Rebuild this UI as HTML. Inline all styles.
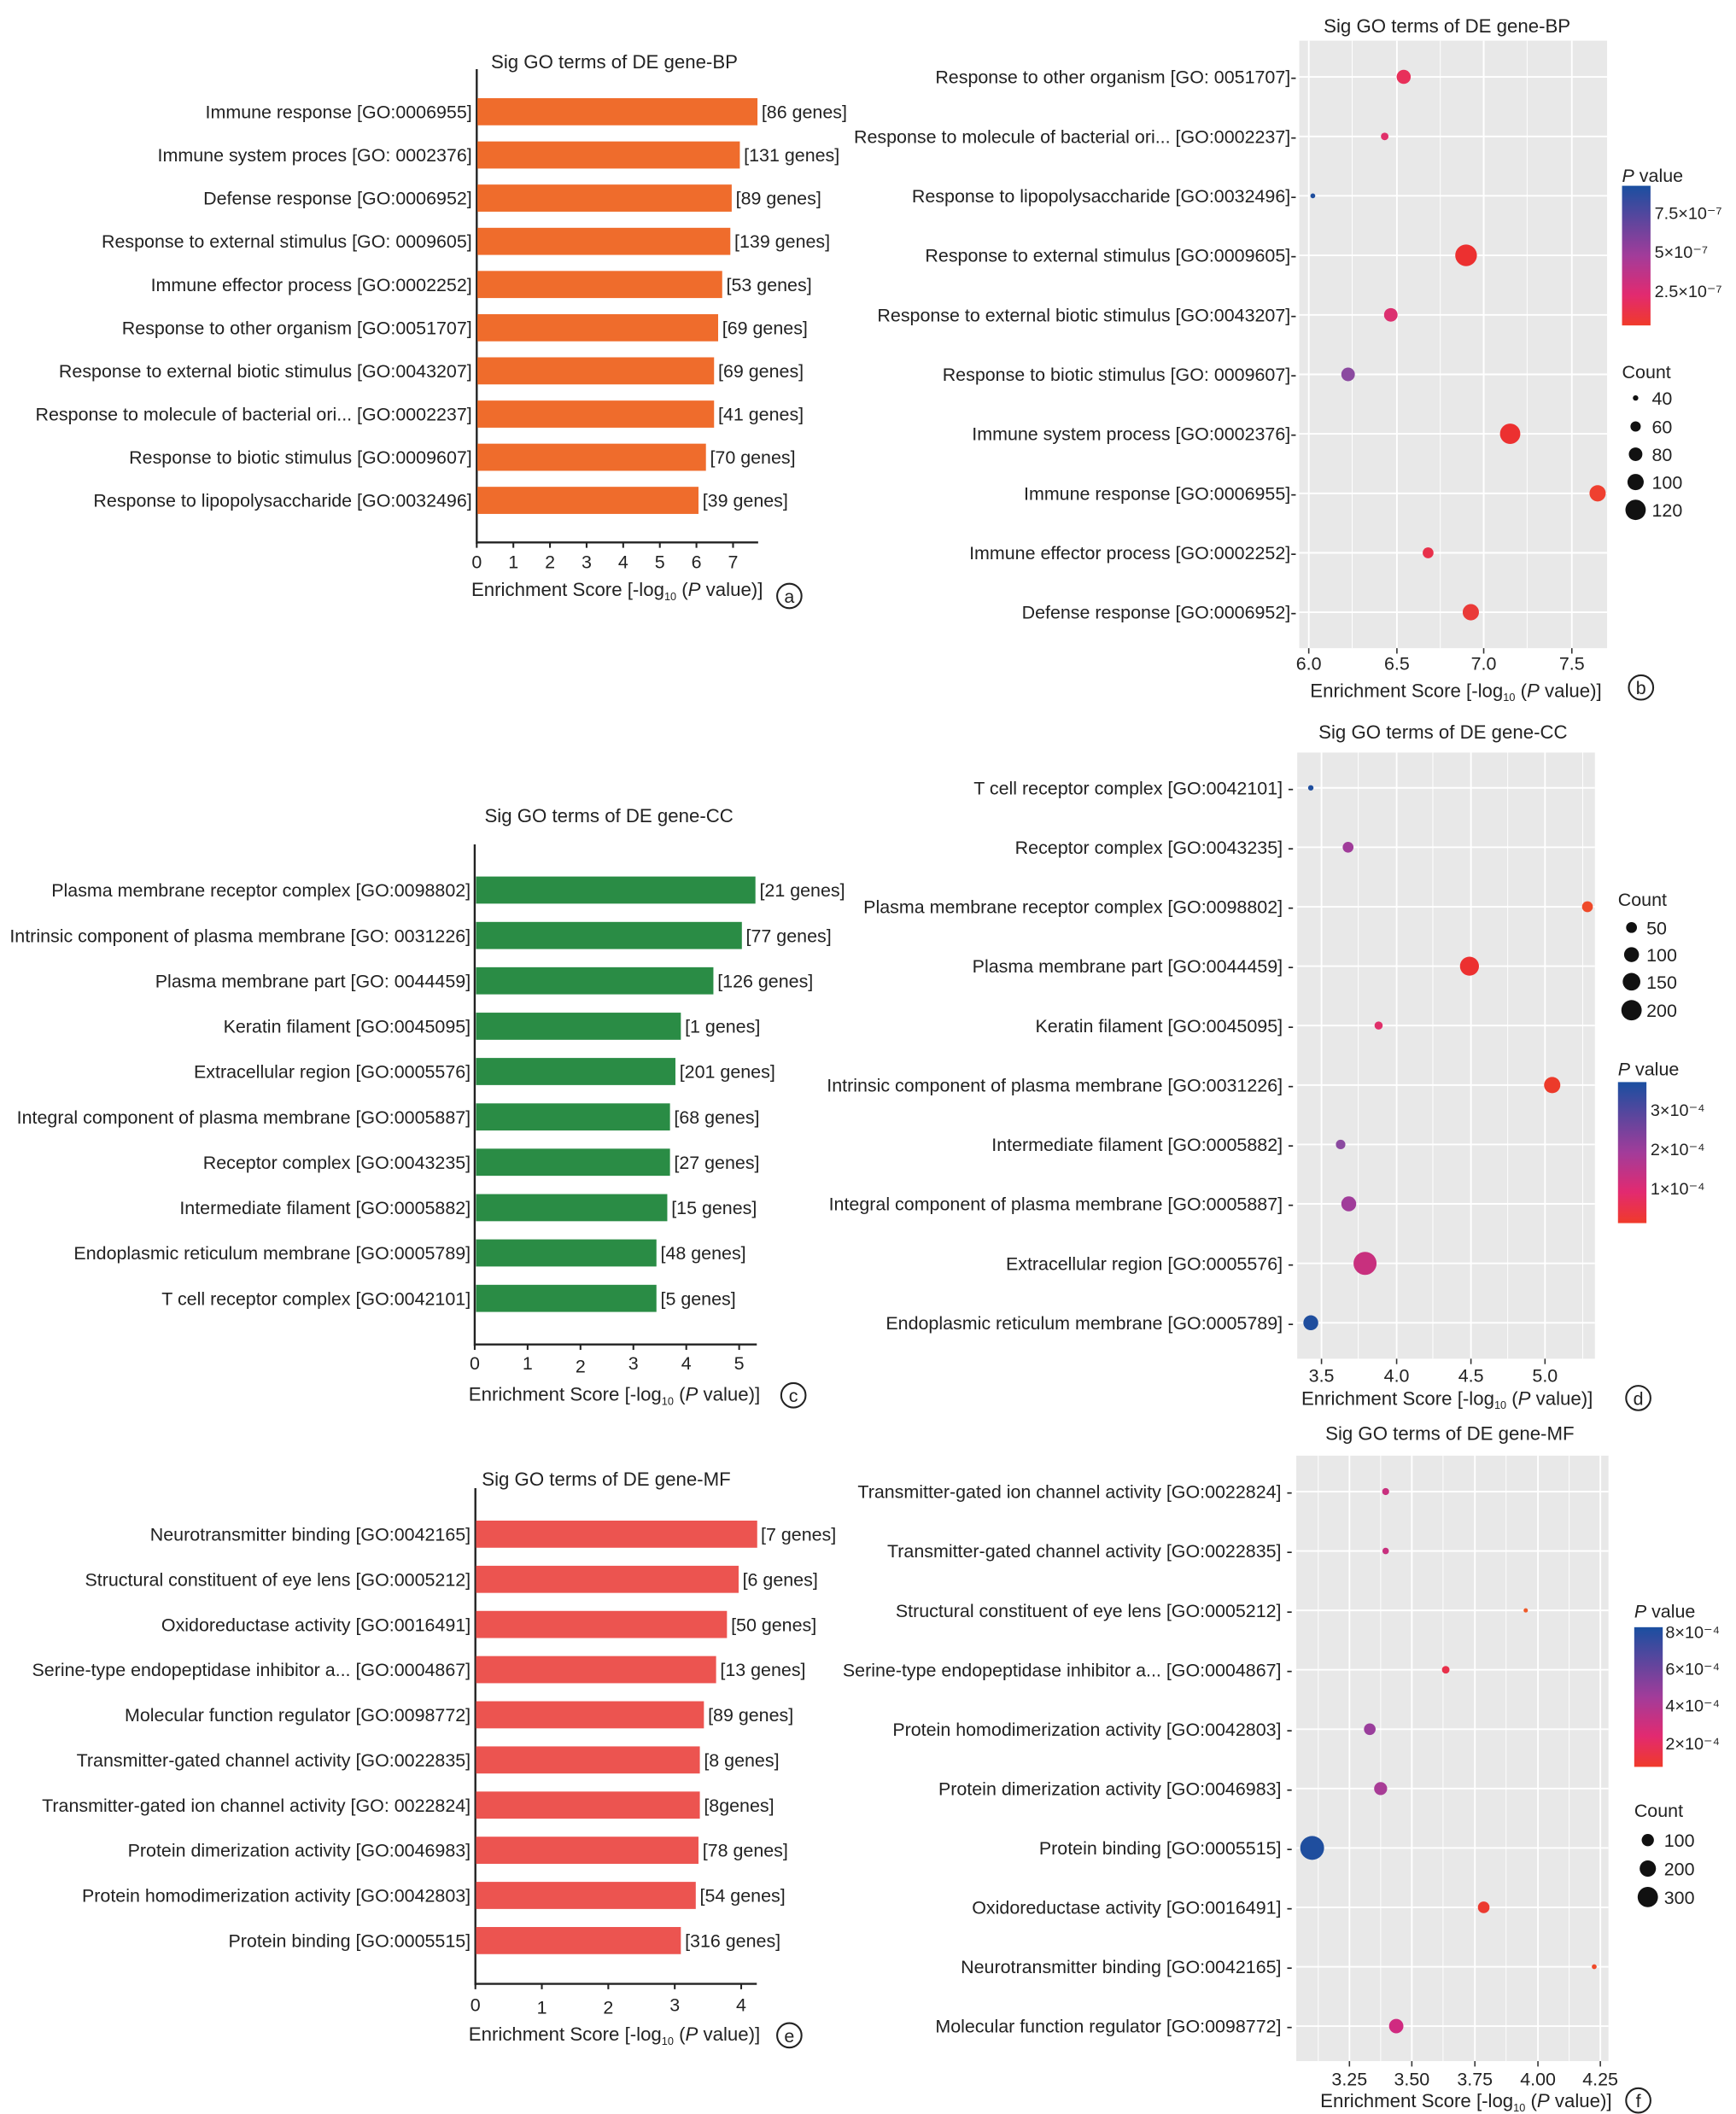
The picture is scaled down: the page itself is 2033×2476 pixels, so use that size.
<!DOCTYPE html>
<html><head><meta charset="utf-8"><style>
html,body{margin:0;padding:0;background:#fff}
svg{display:block}
text{font-family:"Liberation Sans",sans-serif;font-size:13.5px;fill:#222}
.l{text-anchor:end}
.m{text-anchor:middle}
.t{font-size:14px}
.s{font-size:12.5px}
</style></head><body>
<svg width="2033" height="2476" viewBox="0 0 1280 1559" xmlns="http://www.w3.org/2000/svg">
<defs>
<linearGradient id="g" x1="0" y1="0" x2="0" y2="1">
<stop offset="0" stop-color="#1a4fa0"/><stop offset="0.5" stop-color="#a23c9a"/><stop offset="0.78" stop-color="#e22a70"/><stop offset="1" stop-color="#f03a2a"/>
</linearGradient>
</defs>

<!-- Panel a -->
<text x="453" y="50.5" class="m t">Sig GO terms of DE gene-BP</text>
<line x1="351.5" y1="51" x2="351.5" y2="401" stroke="#222" stroke-width="1.5"/>
<line x1="351" y1="400" x2="559" y2="400" stroke="#222" stroke-width="1.5"/>
<g fill="#ef6c2c">
<rect x="352" y="72.4" width="206.5" height="20"/><rect x="352" y="104.3" width="193.5" height="20"/>
<rect x="352" y="136.1" width="187.5" height="20"/><rect x="352" y="168" width="186.5" height="20"/>
<rect x="352" y="199.8" width="180.5" height="20"/><rect x="352" y="231.7" width="177.5" height="20"/>
<rect x="352" y="263.5" width="174.5" height="20"/><rect x="352" y="295.4" width="174.5" height="20"/>
<rect x="352" y="327.2" width="168.5" height="20"/><rect x="352" y="359" width="163" height="20"/>
</g>
<text x="348" y="87.2" class="l">Immune response [GO:0006955]</text>
<text x="348" y="119" class="l">Immune system proces [GO: 0002376]</text>
<text x="348" y="150.9" class="l">Defense response [GO:0006952]</text>
<text x="348" y="182.7" class="l">Response to external stimulus [GO: 0009605]</text>
<text x="348" y="214.6" class="l">Immune effector process [GO:0002252]</text>
<text x="348" y="246.4" class="l">Response to other organism [GO:0051707]</text>
<text x="348" y="278.3" class="l">Response to external biotic stimulus [GO:0043207]</text>
<text x="348" y="310.1" class="l">Response to molecule of bacterial ori... [GO:0002237]</text>
<text x="348" y="342" class="l">Response to biotic stimulus [GO:0009607]</text>
<text x="348" y="373.8" class="l">Response to lipopolysaccharide [GO:0032496]</text>
<text x="561.5" y="87.2">[86 genes]</text><text x="548.5" y="119">[131 genes]</text>
<text x="542.5" y="150.9">[89 genes]</text><text x="541.5" y="182.7">[139 genes]</text>
<text x="535.5" y="214.6">[53 genes]</text><text x="532.5" y="246.4">[69 genes]</text>
<text x="529.5" y="278.3">[69 genes]</text><text x="529.5" y="310.1">[41 genes]</text>
<text x="523.5" y="342">[70 genes]</text><text x="518" y="373.8">[39 genes]</text>
<g stroke="#222" stroke-width="1.3"><line x1="351.5" y1="400" x2="351.5" y2="404"/><line x1="378.5" y1="400" x2="378.5" y2="404"/><line x1="405.5" y1="400" x2="405.5" y2="404"/><line x1="432.5" y1="400" x2="432.5" y2="404"/><line x1="459.5" y1="400" x2="459.5" y2="404"/><line x1="486.5" y1="400" x2="486.5" y2="404"/><line x1="513.5" y1="400" x2="513.5" y2="404"/><line x1="540.5" y1="400" x2="540.5" y2="404"/></g>
<text x="351.5" y="419" class="m">0</text><text x="378.5" y="419" class="m">1</text><text x="405.5" y="419" class="m">2</text><text x="432.5" y="419" class="m">3</text><text x="459.5" y="419" class="m">4</text><text x="486.5" y="419" class="m">5</text><text x="513.5" y="419" class="m">6</text><text x="540.5" y="419" class="m">7</text>
<text x="455" y="439.5" class="m t">Enrichment Score [-log<tspan font-size="8" dy="3">10</tspan><tspan dy="-3"> (</tspan><tspan font-style="italic">P</tspan> value)]</text>
<circle cx="582" cy="439.5" r="9" fill="none" stroke="#222" stroke-width="1.3"/><text x="582" y="444.5" class="m">a</text>

<!-- Panel b -->
<text x="1067" y="24" class="m t">Sig GO terms of DE gene-BP</text>
<rect x="958" y="30" width="227" height="448" fill="#e8e8e8"/>
<g stroke="#fff" stroke-width="0.6"><line x1="997" y1="30" x2="997" y2="478"/><line x1="1062" y1="30" x2="1062" y2="478"/><line x1="1126" y1="30" x2="1126" y2="478"/></g>
<g stroke="#fff" stroke-width="1.2"><line x1="965" y1="30" x2="965" y2="478"/><line x1="1030" y1="30" x2="1030" y2="478"/><line x1="1094" y1="30" x2="1094" y2="478"/><line x1="1159" y1="30" x2="1159" y2="478"/>
<line x1="958" y1="56.7" x2="1185" y2="56.7"/><line x1="958" y1="100.6" x2="1185" y2="100.6"/><line x1="958" y1="144.4" x2="1185" y2="144.4"/><line x1="958" y1="188.3" x2="1185" y2="188.3"/><line x1="958" y1="232.2" x2="1185" y2="232.2"/><line x1="958" y1="276.1" x2="1185" y2="276.1"/><line x1="958" y1="319.9" x2="1185" y2="319.9"/><line x1="958" y1="363.8" x2="1185" y2="363.8"/><line x1="958" y1="407.7" x2="1185" y2="407.7"/><line x1="958" y1="451.5" x2="1185" y2="451.5"/></g>
<text x="956" y="61.5" class="l">Response to other organism [GO: 0051707]-</text>
<text x="956" y="105.4" class="l">Response to molecule of bacterial ori... [GO:0002237]-</text>
<text x="956" y="149.2" class="l">Response to lipopolysaccharide [GO:0032496]-</text>
<text x="956" y="193.1" class="l">Response to external stimulus [GO:0009605]-</text>
<text x="956" y="237" class="l">Response to external biotic stimulus [GO:0043207]-</text>
<text x="956" y="280.9" class="l">Response to biotic stimulus [GO: 0009607]-</text>
<text x="956" y="324.7" class="l">Immune system process [GO:0002376]-</text>
<text x="956" y="368.6" class="l">Immune response [GO:0006955]-</text>
<text x="956" y="412.5" class="l">Immune effector process [GO:0002252]-</text>
<text x="956" y="456.3" class="l">Defense response [GO:0006952]-</text>
<circle cx="1035" cy="56.7" r="5.2" fill="#e8305a"/><circle cx="1021" cy="100.6" r="2.8" fill="#e0306a"/><circle cx="968" cy="144.4" r="1.8" fill="#1f4e9e"/><circle cx="1081" cy="188.3" r="8" fill="#ec3030"/><circle cx="1025.5" cy="232.2" r="5" fill="#dc3070"/><circle cx="994" cy="276.1" r="5" fill="#8b4aa0"/><circle cx="1113.5" cy="319.9" r="7.5" fill="#ec3030"/><circle cx="1178" cy="363.8" r="6" fill="#ef4030"/><circle cx="1053" cy="407.7" r="4" fill="#e8304a"/><circle cx="1084.5" cy="451.5" r="6" fill="#ea3a38"/>
<g stroke="#333"><line x1="965" y1="478" x2="965" y2="482"/><line x1="1030" y1="478" x2="1030" y2="482"/><line x1="1094" y1="478" x2="1094" y2="482"/><line x1="1159" y1="478" x2="1159" y2="482"/></g>
<text x="965" y="494" class="m">6.0</text><text x="1030" y="494" class="m">6.5</text><text x="1094" y="494" class="m">7.0</text><text x="1159" y="494" class="m">7.5</text>
<text x="1073.5" y="514" class="m t">Enrichment Score [-log<tspan font-size="8" dy="3">10</tspan><tspan dy="-3"> (</tspan><tspan font-style="italic">P</tspan> value)]</text>
<circle cx="1210" cy="507" r="9" fill="none" stroke="#222" stroke-width="1.3"/><text x="1210" y="512" class="m">b</text>
<text x="1196" y="134"><tspan font-style="italic">P</tspan> value</text>
<rect x="1196" y="137" width="21" height="103" fill="url(#g)"/>
<text x="1220" y="161.5" class="s">7.5×10⁻⁷</text><text x="1220" y="190" class="s">5×10⁻⁷</text><text x="1220" y="219" class="s">2.5×10⁻⁷</text>
<text x="1196" y="279">Count</text>
<circle cx="1206" cy="293.5" r="2" fill="#111"/><circle cx="1206" cy="314.5" r="3.8" fill="#111"/><circle cx="1206" cy="335" r="5" fill="#111"/><circle cx="1206" cy="355.5" r="6" fill="#111"/><circle cx="1206" cy="376" r="7.5" fill="#111"/>
<text x="1218" y="298.5">40</text><text x="1218" y="319.5">60</text><text x="1218" y="340">80</text><text x="1218" y="360.5">100</text><text x="1218" y="381">120</text>

<!-- Panel c -->
<text x="449" y="606.5" class="m t">Sig GO terms of DE gene-CC</text>
<line x1="350" y1="622.7" x2="350" y2="992.5" stroke="#222" stroke-width="1.5"/>
<line x1="350" y1="991.5" x2="558" y2="991.5" stroke="#222" stroke-width="1.5"/>
<g fill="#2a8c45">
<rect x="351" y="646.4" width="206" height="20"/><rect x="351" y="679.9" width="196" height="20"/><rect x="351" y="713.3" width="175" height="20"/><rect x="351" y="746.8" width="151" height="20"/><rect x="351" y="780.2" width="147" height="20"/><rect x="351" y="813.7" width="143" height="20"/><rect x="351" y="847.1" width="143" height="20"/><rect x="351" y="880.6" width="141" height="20"/><rect x="351" y="914" width="133" height="20"/><rect x="351" y="947.5" width="133" height="20"/>
</g>
<text x="347" y="661.2" class="l">Plasma membrane receptor complex [GO:0098802]</text>
<text x="347" y="694.7" class="l">Intrinsic component of plasma membrane [GO: 0031226]</text>
<text x="347" y="728.1" class="l">Plasma membrane part [GO: 0044459]</text>
<text x="347" y="761.6" class="l">Keratin filament [GO:0045095]</text>
<text x="347" y="795" class="l">Extracellular region [GO:0005576]</text>
<text x="347" y="828.5" class="l">Integral component of plasma membrane [GO:0005887]</text>
<text x="347" y="861.9" class="l">Receptor complex [GO:0043235]</text>
<text x="347" y="895.4" class="l">Intermediate filament [GO:0005882]</text>
<text x="347" y="928.8" class="l">Endoplasmic reticulum membrane [GO:0005789]</text>
<text x="347" y="962.3" class="l">T cell receptor complex [GO:0042101]</text>
<text x="560" y="661.2">[21 genes]</text><text x="550" y="694.7">[77 genes]</text><text x="529" y="728.1">[126 genes]</text><text x="505" y="761.6">[1 genes]</text><text x="501" y="795">[201 genes]</text><text x="497" y="828.5">[68 genes]</text><text x="497" y="861.9">[27 genes]</text><text x="495" y="895.4">[15 genes]</text><text x="487" y="928.8">[48 genes]</text><text x="487" y="962.3">[5 genes]</text>
<g stroke="#222" stroke-width="1.3"><line x1="350" y1="991.5" x2="350" y2="995.5"/><line x1="389" y1="991.5" x2="389" y2="995.5"/><line x1="428" y1="991.5" x2="428" y2="995.5"/><line x1="467" y1="991.5" x2="467" y2="995.5"/><line x1="506" y1="991.5" x2="506" y2="995.5"/><line x1="545" y1="991.5" x2="545" y2="995.5"/></g>
<text x="350" y="1010" class="m">0</text><text x="389" y="1010" class="m">1</text><text x="428" y="1012" class="m">2</text><text x="467" y="1010" class="m">3</text><text x="506" y="1010" class="m">4</text><text x="545" y="1010" class="m">5</text>
<text x="453" y="1033" class="m t">Enrichment Score [-log<tspan font-size="8" dy="3">10</tspan><tspan dy="-3"> (</tspan><tspan font-style="italic">P</tspan> value)]</text>
<circle cx="585" cy="1029" r="9" fill="none" stroke="#222" stroke-width="1.3"/><text x="585" y="1034" class="m">c</text>

<!-- Panel d -->
<text x="1064" y="544.5" class="m t">Sig GO terms of DE gene-CC</text>
<rect x="956.5" y="555" width="219.5" height="447" fill="#e8e8e8"/>
<g stroke="#fff" stroke-width="0.6"><line x1="1001.5" y1="555" x2="1001.5" y2="1002"/><line x1="1056.5" y1="555" x2="1056.5" y2="1002"/><line x1="1111.7" y1="555" x2="1111.7" y2="1002"/><line x1="1167" y1="555" x2="1167" y2="1002"/></g>
<g stroke="#fff" stroke-width="1.2"><line x1="974.4" y1="555" x2="974.4" y2="1002"/><line x1="1029.8" y1="555" x2="1029.8" y2="1002"/><line x1="1084.6" y1="555" x2="1084.6" y2="1002"/><line x1="1139.2" y1="555" x2="1139.2" y2="1002"/>
<line x1="956.5" y1="581" x2="1176" y2="581"/><line x1="956.5" y1="624.8" x2="1176" y2="624.8"/><line x1="956.5" y1="668.7" x2="1176" y2="668.7"/><line x1="956.5" y1="712.5" x2="1176" y2="712.5"/><line x1="956.5" y1="756.3" x2="1176" y2="756.3"/><line x1="956.5" y1="800.2" x2="1176" y2="800.2"/><line x1="956.5" y1="844" x2="1176" y2="844"/><line x1="956.5" y1="887.8" x2="1176" y2="887.8"/><line x1="956.5" y1="931.7" x2="1176" y2="931.7"/><line x1="956.5" y1="975.5" x2="1176" y2="975.5"/></g>
<text x="954" y="585.8" class="l">T cell receptor complex [GO:0042101] -</text>
<text x="954" y="629.6" class="l">Receptor complex [GO:0043235] -</text>
<text x="954" y="673.5" class="l">Plasma membrane receptor complex [GO:0098802] -</text>
<text x="954" y="717.3" class="l">Plasma membrane part [GO:0044459] -</text>
<text x="954" y="761.1" class="l">Keratin filament [GO:0045095] -</text>
<text x="954" y="805" class="l">Intrinsic component of plasma membrane [GO:0031226] -</text>
<text x="954" y="848.8" class="l">Intermediate filament [GO:0005882] -</text>
<text x="954" y="892.6" class="l">Integral component of plasma membrane [GO:0005887] -</text>
<text x="954" y="936.5" class="l">Extracellular region [GO:0005576] -</text>
<text x="954" y="980.3" class="l">Endoplasmic reticulum membrane [GO:0005789] -</text>
<circle cx="966.5" cy="581" r="2" fill="#1f4e9e"/><circle cx="994" cy="624.8" r="4" fill="#a03c9a"/><circle cx="1170.5" cy="668.7" r="4" fill="#ef4a2a"/><circle cx="1083.5" cy="712.5" r="7" fill="#ec3030"/><circle cx="1016.5" cy="756.3" r="3" fill="#e0306a"/><circle cx="1144.5" cy="800.2" r="6" fill="#ec3a2a"/><circle cx="988.5" cy="844" r="3.5" fill="#8b4aa0"/><circle cx="994.5" cy="887.8" r="5.5" fill="#a03c9a"/><circle cx="1006.5" cy="931.7" r="8.5" fill="#c8307e"/><circle cx="966.5" cy="975.5" r="5.5" fill="#1f4e9e"/>
<g stroke="#333"><line x1="974.4" y1="1002" x2="974.4" y2="1006"/><line x1="1029.8" y1="1002" x2="1029.8" y2="1006"/><line x1="1084.6" y1="1002" x2="1084.6" y2="1006"/><line x1="1139.2" y1="1002" x2="1139.2" y2="1006"/></g>
<text x="974.4" y="1019" class="m">3.5</text><text x="1029.8" y="1019" class="m">4.0</text><text x="1084.6" y="1019" class="m">4.5</text><text x="1139.2" y="1019" class="m">5.0</text>
<text x="1067" y="1036" class="m t">Enrichment Score [-log<tspan font-size="8" dy="3">10</tspan><tspan dy="-3"> (</tspan><tspan font-style="italic">P</tspan> value)]</text>
<circle cx="1208" cy="1031" r="9" fill="none" stroke="#222" stroke-width="1.3"/><text x="1208" y="1036" class="m">d</text>
<text x="1193" y="668">Count</text>
<circle cx="1203" cy="684" r="4" fill="#111"/><circle cx="1203" cy="704" r="5.5" fill="#111"/><circle cx="1203" cy="724" r="6.5" fill="#111"/><circle cx="1203" cy="745" r="7.5" fill="#111"/>
<text x="1214" y="689">50</text><text x="1214" y="709">100</text><text x="1214" y="729">150</text><text x="1214" y="750">200</text>
<text x="1193" y="793"><tspan font-style="italic">P</tspan> value</text>
<rect x="1193" y="798" width="21" height="104" fill="url(#g)"/>
<text x="1217" y="823" class="s">3×10⁻⁴</text><text x="1217" y="852" class="s">2×10⁻⁴</text><text x="1217" y="881" class="s">1×10⁻⁴</text>

<!-- Panel e -->
<text x="447" y="1095.5" class="m t">Sig GO terms of DE gene-MF</text>
<line x1="350.5" y1="1097.5" x2="350.5" y2="1464" stroke="#222" stroke-width="1.5"/>
<line x1="350" y1="1463" x2="558" y2="1463" stroke="#222" stroke-width="1.5"/>
<g fill="#ec5450">
<rect x="351" y="1121.4" width="207.3" height="20"/><rect x="351" y="1154.7" width="193.6" height="20"/><rect x="351" y="1188" width="185" height="20"/><rect x="351" y="1221.3" width="177" height="20"/><rect x="351" y="1254.6" width="168" height="20"/><rect x="351" y="1287.9" width="165" height="20"/><rect x="351" y="1321.2" width="165" height="20"/><rect x="351" y="1354.5" width="164" height="20"/><rect x="351" y="1387.8" width="162" height="20"/><rect x="351" y="1421.1" width="151" height="20"/>
</g>
<text x="347" y="1136.2" class="l">Neurotransmitter binding [GO:0042165]</text>
<text x="347" y="1169.5" class="l">Structural constituent of eye lens [GO:0005212]</text>
<text x="347" y="1202.8" class="l">Oxidoreductase activity [GO:0016491]</text>
<text x="347" y="1236.1" class="l">Serine-type endopeptidase inhibitor a... [GO:0004867]</text>
<text x="347" y="1269.4" class="l">Molecular function regulator [GO:0098772]</text>
<text x="347" y="1302.7" class="l">Transmitter-gated channel activity [GO:0022835]</text>
<text x="347" y="1336" class="l">Transmitter-gated ion channel activity [GO: 0022824]</text>
<text x="347" y="1369.3" class="l">Protein dimerization activity [GO:0046983]</text>
<text x="347" y="1402.6" class="l">Protein homodimerization activity [GO:0042803]</text>
<text x="347" y="1435.9" class="l">Protein binding [GO:0005515]</text>
<text x="561" y="1136.2">[7 genes]</text><text x="547.5" y="1169.5">[6 genes]</text><text x="539" y="1202.8">[50 genes]</text><text x="531" y="1236.1">[13 genes]</text><text x="522" y="1269.4">[89 genes]</text><text x="519" y="1302.7">[8 genes]</text><text x="519" y="1336">[8genes]</text><text x="518" y="1369.3">[78 genes]</text><text x="516" y="1402.6">[54 genes]</text><text x="505" y="1435.9">[316 genes]</text>
<g stroke="#222" stroke-width="1.3"><line x1="350.5" y1="1463" x2="350.5" y2="1467"/><line x1="399.5" y1="1463" x2="399.5" y2="1467"/><line x1="448.5" y1="1463" x2="448.5" y2="1467"/><line x1="497.5" y1="1463" x2="497.5" y2="1467"/><line x1="546.5" y1="1463" x2="546.5" y2="1467"/></g>
<text x="350.5" y="1483" class="m">0</text><text x="399.5" y="1485" class="m">1</text><text x="448.5" y="1485" class="m">2</text><text x="497.5" y="1483" class="m">3</text><text x="546.5" y="1483" class="m">4</text>
<text x="453" y="1505" class="m t">Enrichment Score [-log<tspan font-size="8" dy="3">10</tspan><tspan dy="-3"> (</tspan><tspan font-style="italic">P</tspan> value)]</text>
<circle cx="582" cy="1501" r="9" fill="none" stroke="#222" stroke-width="1.3"/><text x="582" y="1506" class="m">e</text>

<!-- Panel f -->
<text x="1069" y="1062" class="m t">Sig GO terms of DE gene-MF</text>
<rect x="955.8" y="1073.5" width="230.2" height="446.5" fill="#e8e8e8"/>
<g stroke="#fff" stroke-width="0.6"><line x1="972" y1="1073.5" x2="972" y2="1520"/><line x1="1018" y1="1073.5" x2="1018" y2="1520"/><line x1="1064" y1="1073.5" x2="1064" y2="1520"/><line x1="1110.5" y1="1073.5" x2="1110.5" y2="1520"/><line x1="1157" y1="1073.5" x2="1157" y2="1520"/></g>
<g stroke="#fff" stroke-width="1.2"><line x1="995" y1="1073.5" x2="995" y2="1520"/><line x1="1041" y1="1073.5" x2="1041" y2="1520"/><line x1="1087.5" y1="1073.5" x2="1087.5" y2="1520"/><line x1="1134" y1="1073.5" x2="1134" y2="1520"/><line x1="1180" y1="1073.5" x2="1180" y2="1520"/>
<line x1="955.8" y1="1100" x2="1186" y2="1100"/><line x1="955.8" y1="1143.8" x2="1186" y2="1143.8"/><line x1="955.8" y1="1187.6" x2="1186" y2="1187.6"/><line x1="955.8" y1="1231.4" x2="1186" y2="1231.4"/><line x1="955.8" y1="1275.2" x2="1186" y2="1275.2"/><line x1="955.8" y1="1319" x2="1186" y2="1319"/><line x1="955.8" y1="1362.8" x2="1186" y2="1362.8"/><line x1="955.8" y1="1406.6" x2="1186" y2="1406.6"/><line x1="955.8" y1="1450.4" x2="1186" y2="1450.4"/><line x1="955.8" y1="1494.2" x2="1186" y2="1494.2"/></g>
<text x="953" y="1104.8" class="l">Transmitter-gated ion channel activity [GO:0022824] -</text>
<text x="953" y="1148.6" class="l">Transmitter-gated channel activity [GO:0022835] -</text>
<text x="953" y="1192.4" class="l">Structural constituent of eye lens [GO:0005212] -</text>
<text x="953" y="1236.2" class="l">Serine-type endopeptidase inhibitor a... [GO:0004867] -</text>
<text x="953" y="1280" class="l">Protein homodimerization activity [GO:0042803] -</text>
<text x="953" y="1323.8" class="l">Protein dimerization activity [GO:0046983] -</text>
<text x="953" y="1367.6" class="l">Protein binding [GO:0005515] -</text>
<text x="953" y="1411.4" class="l">Oxidoreductase activity [GO:0016491] -</text>
<text x="953" y="1455.2" class="l">Neurotransmitter binding [GO:0042165] -</text>
<text x="953" y="1499" class="l">Molecular function regulator [GO:0098772] -</text>
<circle cx="1021.7" cy="1100" r="2.6" fill="#c8307e"/><circle cx="1021.7" cy="1143.8" r="2.4" fill="#c8307e"/><circle cx="1125" cy="1187.6" r="1.6" fill="#ef5a2a"/><circle cx="1066" cy="1231.4" r="2.8" fill="#e8304a"/><circle cx="1010" cy="1275.2" r="4.3" fill="#9a3e9c"/><circle cx="1018" cy="1319" r="4.8" fill="#a83c96"/><circle cx="967.5" cy="1362.8" r="8.8" fill="#1f4e9e"/><circle cx="1094" cy="1406.6" r="4.3" fill="#ec3a30"/><circle cx="1175.5" cy="1450.4" r="1.8" fill="#ef4a2a"/><circle cx="1029.5" cy="1494.2" r="5.3" fill="#d02a80"/>
<g stroke="#333"><line x1="995" y1="1520" x2="995" y2="1524"/><line x1="1041" y1="1520" x2="1041" y2="1524"/><line x1="1087.5" y1="1520" x2="1087.5" y2="1524"/><line x1="1134" y1="1520" x2="1134" y2="1524"/><line x1="1180" y1="1520" x2="1180" y2="1524"/></g>
<text x="995" y="1538" class="m">3.25</text><text x="1041" y="1538" class="m">3.50</text><text x="1087.5" y="1538" class="m">3.75</text><text x="1134" y="1538" class="m">4.00</text><text x="1180" y="1538" class="m">4.25</text>
<text x="1081" y="1554" class="m t">Enrichment Score [-log<tspan font-size="8" dy="3">10</tspan><tspan dy="-3"> (</tspan><tspan font-style="italic">P</tspan> value)]</text>
<circle cx="1208" cy="1549" r="9" fill="none" stroke="#222" stroke-width="1.3"/><text x="1208" y="1554" class="m">f</text>
<text x="1205" y="1193"><tspan font-style="italic">P</tspan> value</text>
<rect x="1205" y="1200" width="21" height="103" fill="url(#g)"/>
<text x="1228" y="1208" class="s">8×10⁻⁴</text><text x="1228" y="1235" class="s">6×10⁻⁴</text><text x="1228" y="1262" class="s">4×10⁻⁴</text><text x="1228" y="1290" class="s">2×10⁻⁴</text>
<text x="1205" y="1340">Count</text>
<circle cx="1215" cy="1357" r="4.5" fill="#111"/><circle cx="1215" cy="1378" r="6" fill="#111"/><circle cx="1215" cy="1399" r="7.5" fill="#111"/>
<text x="1227" y="1362">100</text><text x="1227" y="1383">200</text><text x="1227" y="1404">300</text>
</svg>
</body></html>
